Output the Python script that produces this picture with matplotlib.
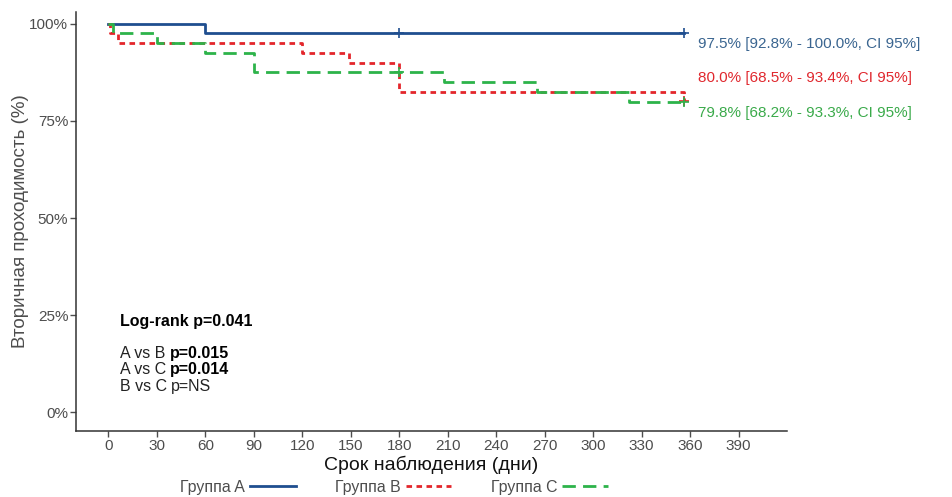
import matplotlib
matplotlib.use("Agg")
import matplotlib.pyplot as plt
from matplotlib.lines import Line2D

plt.rcParams['font.family'] = ['Liberation Sans', 'DejaVu Sans']

# ---- data ----
t_a = [0, 60, 356]
s_a = [1.0, 0.975, 0.975]
cens_a_t = [180, 356]
cens_a_s = [0.975, 0.975]

t_b = [0, 1, 6, 120, 149, 180, 356]
s_b = [1.0, 0.975, 0.95, 0.925, 0.90, 0.825, 0.80]
cens_b_t = [356]
cens_b_s = [0.80]

t_c = [0, 3, 30, 60, 90, 208, 265, 322, 356]
s_c = [1.0, 0.975, 0.95, 0.925, 0.875, 0.85, 0.825, 0.798, 0.798]
cens_c_t = [180, 356]
cens_c_s = [0.875, 0.798]

groups = ["Группа A", "Группа B", "Группа C"]
end_labels = ["97.5% [92.8% - 100.0%, CI 95%]",
              "80.0% [68.5% - 93.4%, CI 95%]",
              "79.8% [68.2% - 93.3%, CI 95%]"]
label_y = [0.947, 0.861, 0.771]
xticks = list(range(0, 391, 30))
yticks = [0, 0.25, 0.5, 0.75, 1.0]
ytick_labels = ["0%", "25%", "50%", "75%", "100%"]

col_a = "#1f4e8f"
col_b = "#e3262b"
col_c = "#2db34a"
txt_a = "#3a6590"
txt_b = "#e0282e"
txt_c = "#3aaa4a"
gray = "#4d4d4d"

fig = plt.figure(figsize=(9.52, 4.97), dpi=100)
ax = fig.add_axes([0.0798, 0.1328, 0.747, 0.843])

ax.step(t_a, s_a, where='post', color=col_a, lw=2.0)
ax.step(t_b, s_b, where='post', color=col_b, lw=2.0, dashes=(2.0, 1.6))
ax.step(t_c, s_c, where='post', color=col_c, lw=2.0, dashes=(4.8, 2.6))
ax.plot(cens_a_t, cens_a_s, '+', color=col_a, ms=7, mew=1.2)
ax.plot(cens_b_t, cens_b_s, '+', color=col_b, ms=7, mew=1.2)
ax.plot(cens_c_t, cens_c_s, '+', color=col_c, ms=7, mew=1.2)

for lab, yy, c in zip(end_labels, label_y, [txt_a, txt_b, txt_c]):
    ax.text(365, yy, lab, color=c, fontsize=11, va='center', ha='left',
            clip_on=False)

ax.set_xlim(-20, 420)
ax.set_ylim(-0.048, 1.03)
ax.set_xticks(xticks)
ax.set_yticks(yticks)
ax.set_yticklabels(ytick_labels)
ax.tick_params(colors=gray, labelsize=11, length=4, width=1, pad=1.5)
ax.tick_params(axis='both', labelcolor=gray)
for s in ['top', 'right']:
    ax.spines[s].set_visible(False)
for s in ['left', 'bottom']:
    ax.spines[s].set_color('#333333')
    ax.spines[s].set_linewidth(1.1)

ax.set_xlabel("Срок наблюдения (дни)", fontsize=14, color='#111111', labelpad=2)
ax.set_ylabel("Вторичная проходимость (%)", fontsize=13.5, color=gray, labelpad=0)

# p-value block
ax.text(7, 0.234, "Log-rank p=0.041", fontsize=11.5, weight='bold', va='center')
rows = [("A vs B ", "p=0.015", 'bold'),
        ("A vs C ", "p=0.014", 'bold'),
        ("B vs C ", "p=NS", 'normal')]
ry = [0.151, 0.110, 0.066]
for (a, b, w), yy in zip(rows, ry):
    t = ax.text(7, yy, a, fontsize=11.5, va='center', color='#222222')
    ax.annotate(b, xy=(1, 0.5), xycoords=t, va='center', ha='left',
                fontsize=11.5, weight=w, color='#222222' if w == 'normal' else 'black')

handles = [Line2D([], [], color=col_a, lw=2.0),
           Line2D([], [], color=col_b, lw=2.0, dashes=(2.0, 1.6)),
           Line2D([], [], color=col_c, lw=2.0, dashes=(4.8, 2.6))]
fig.legend(handles, groups, loc='center', bbox_to_anchor=(0.414, 0.02),
           ncol=3, frameon=False, markerfirst=False, fontsize=11.4,
           handlelength=2.9, handletextpad=0.3, columnspacing=2.5,
           labelcolor=gray, borderpad=0.1)

fig.savefig("out.png", dpi=100)
